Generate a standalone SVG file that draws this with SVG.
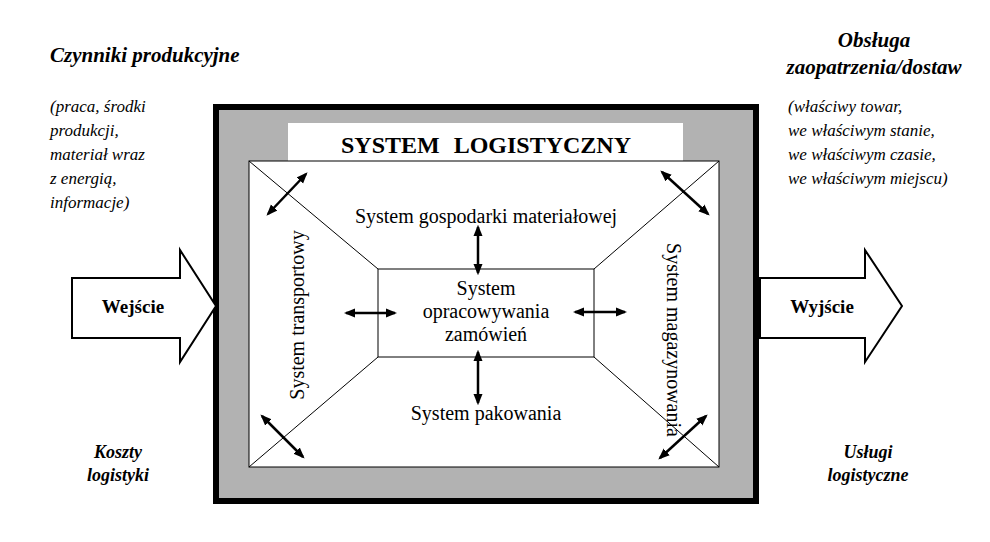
<svg xmlns="http://www.w3.org/2000/svg" width="990" height="542" viewBox="0 0 990 542">
<style>
text{font-family:"Liberation Serif","DejaVu Serif",serif;fill:#000}
.it{font-style:italic;font-size:17px}
.bi{font-style:italic;font-weight:bold;font-size:21px}
.n{font-size:20px}
.thin{stroke:#000;stroke-width:1;fill:none}
.arr{stroke:#000;stroke-width:2.5;marker-start:url(#h);marker-end:url(#h)}
</style>
<defs><marker id="h" viewBox="0 0 10 10" refX="8" refY="5" markerWidth="4.5" markerHeight="4.5" orient="auto-start-reverse" markerUnits="strokeWidth"><path d="M0,1 L10,5 L0,9 z"/></marker></defs>
<rect width="990" height="542" fill="#fff"/>
<g id="frame">
<rect x="216" y="107" width="540" height="394" fill="#b2b2b2" stroke="#000" stroke-width="6"/>
<rect x="288" y="123" width="395" height="38" fill="#fff"/>
<text x="486" y="153" text-anchor="middle" font-size="24" font-weight="bold" word-spacing="8">SYSTEM LOGISTYCZNY</text>
<rect x="249" y="161" width="470" height="306" fill="#fff" stroke="#000" stroke-width="1"/>
<line class="thin" x1="249" y1="161" x2="378" y2="269"/>
<line class="thin" x1="719" y1="161" x2="594" y2="269"/>
<line class="thin" x1="249" y1="467" x2="378" y2="357"/>
<line class="thin" x1="719" y1="467" x2="594" y2="357"/>
</g>
<g id="center"><rect x="378" y="269" width="216" height="88" fill="#fff" stroke="#000"/>
<text class="n" text-anchor="middle" x="486" y="295">System</text>
<text class="n" text-anchor="middle" x="486" y="318">opracowywania</text>
<text class="n" text-anchor="middle" x="486" y="341">zamówień</text></g>
<g id="top"><text class="n" text-anchor="middle" x="486" y="223">System gospodarki materiałowej</text></g>
<g id="bottom"><text class="n" text-anchor="middle" x="486" y="420">System pakowania</text></g>
<g id="left"><text class="n" text-anchor="middle" transform="translate(304,315) rotate(-90)">System transportowy</text></g>
<g id="right"><text class="n" text-anchor="middle" transform="translate(667,340) rotate(90)">System magazynowania</text></g>
<g id="connectors">
<line class="arr" x1="346" y1="313" x2="395" y2="313"/>
<line class="arr" x1="575" y1="312" x2="625" y2="312"/>
<line class="arr" x1="478" y1="227" x2="478" y2="273"/>
<line class="arr" x1="478" y1="352" x2="478" y2="403"/>
<line class="arr" x1="268" y1="214" x2="306" y2="174"/>
<line class="arr" x1="662" y1="172" x2="708" y2="214"/>
<line class="arr" x1="262" y1="416" x2="303" y2="457"/>
<line class="arr" x1="660" y1="458" x2="706" y2="416"/>
</g>
<g id="wejscie"><path d="M72,278 H180 V250 L216,306 L180,362 V338 H72 Z" fill="#fff" stroke="#000" stroke-width="2"/>
<text x="133" y="313" text-anchor="middle" font-size="19" font-weight="bold">Wejście</text></g>
<g id="wyjscie"><path d="M760,278 H865 V250 L902,306 L865,362 V338 H760 Z" fill="#fff" stroke="#000" stroke-width="2"/>
<text x="822" y="313" text-anchor="middle" font-size="19" font-weight="bold">Wyjście</text></g>
<g id="czynniki"><text class="bi" x="50" y="62">Czynniki produkcyjne</text>
<text class="it" x="50" y="112">(praca, środki</text>
<text class="it" x="50" y="136">produkcji,</text>
<text class="it" x="50" y="160">materiał wraz</text>
<text class="it" x="50" y="184">z energią,</text>
<text class="it" x="50" y="208">informacje)</text></g>
<g id="obsluga"><text class="bi" x="874" y="47" text-anchor="middle">Obsługa</text>
<text class="bi" x="874" y="74" text-anchor="middle">zaopatrzenia/dostaw</text>
<text class="it" x="788" y="112">(właściwy towar,</text>
<text class="it" x="788" y="136">we właściwym stanie,</text>
<text class="it" x="788" y="160">we właściwym czasie,</text>
<text class="it" x="788" y="184">we właściwym miejscu)</text></g>
<g id="koszty"><text class="bi" x="118" y="458" text-anchor="middle" style="font-size:18px">Koszty</text>
<text class="bi" x="118" y="481" text-anchor="middle" style="font-size:18px">logistyki</text></g>
<g id="uslugi"><text class="bi" x="868" y="458" text-anchor="middle" style="font-size:18px">Usługi</text>
<text class="bi" x="868" y="481" text-anchor="middle" style="font-size:18px">logistyczne</text></g>
</svg>
